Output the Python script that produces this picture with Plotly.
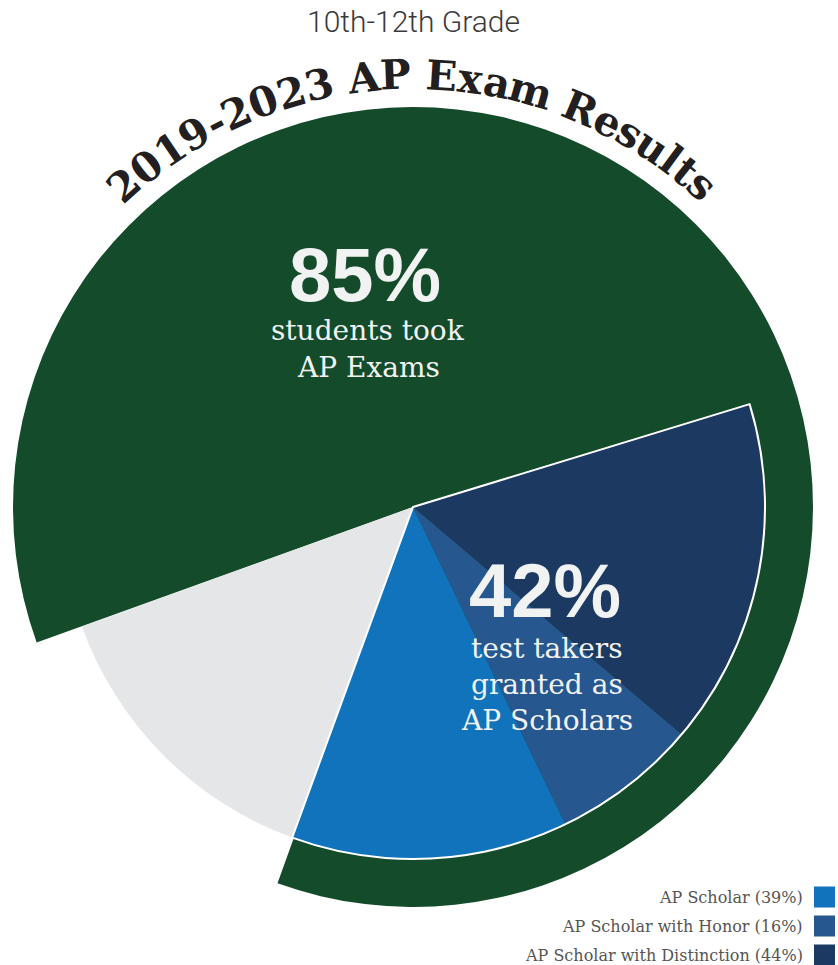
import math
import plotly.graph_objects as go

# ---------------- data ----------------
outer_labels = ["Took AP Exams", "Did not take AP Exams"]
outer_values = [86.0, 14.0]

inner_labels = ["AP Scholar with Distinction", "AP Scholar with Honor", "AP Scholar",
                "Did not take AP Exams", "Not granted"]
inner_values = [15.9, 6.7, 12.7, 13.9, 50.8]

legend_labels = ["AP Scholar (39%)", "AP Scholar with Honor (16%)", "AP Scholar with Distinction (44%)"]

subtitle = "10th-12th Grade"
title_text = "2019-2023 AP Exam Results"
big1 = "85%"
big1_lines = ["students took", "AP Exams"]
big2 = "42%"
big2_lines = ["test takers", "granted as", "AP Scholars"]

# ---------------- styles ----------------
GREEN = "#134b2b"
NAVY = "#1c3961"
MED = "#26578f"
LIGHT = "#1073bb"
GREY = "#e5e6e7"
CLEAR = "rgba(0,0,0,0)"
WHITE_TXT = "#f1f2f2"

W, H = 838, 965
CX, CY = 413, 507
R_OUT, R_IN = 400, 352


def px(x):
    return x / W


def py(y):
    return 1 - y / H


def domain(r):
    return dict(x=[px(CX - r), px(CX + r)], y=[py(CY + r), py(CY - r)])


fig = go.Figure()

# outer ring (green share of students)
fig.add_trace(go.Pie(
    labels=outer_labels, values=outer_values, sort=False, direction="clockwise",
    rotation=250.2, domain=domain(R_OUT), textinfo="none", hoverinfo="skip",
    marker=dict(colors=[GREEN, CLEAR], line=dict(width=0)), showlegend=False,
))

# inner pie
fig.add_trace(go.Pie(
    labels=inner_labels, values=inner_values, sort=False, direction="clockwise",
    rotation=73.0, domain=domain(R_IN), textinfo="none", hoverinfo="skip",
    marker=dict(colors=[NAVY, MED, LIGHT, GREY, CLEAR], line=dict(width=0)), showlegend=False,
))

# white outline around the AP scholar group
blue_total = sum(inner_values[:3])
fig.add_trace(go.Pie(
    labels=["AP Scholars", "Others"], values=[blue_total, sum(inner_values) - blue_total],
    sort=False, direction="clockwise", rotation=73.0, domain=domain(R_IN),
    textinfo="none", hoverinfo="skip",
    marker=dict(colors=[CLEAR, CLEAR], line=dict(color=["white", CLEAR], width=[2, 0])),
    showlegend=False,
))

annotations = []

# subtitle
annotations.append(dict(x=px(413), y=py(22), xref="paper", yref="paper", text=subtitle,
                        showarrow=False, xanchor="center", yanchor="middle",
                        font=dict(family="Roboto", size=30, color="#3a3a3a", weight=300)))

# curved title
EM = {"-": 0.415, " ": 0.348, "A": 0.776, "P": 0.733, "E": 0.734, "x": 0.657, "a": 0.647,
      "m": 1.017, "R": 0.813, "e": 0.632, "s": 0.551, "u": 0.708, "l": 0.367, "t": 0.478}
FS = 41
R_T = 432
SPAN_DEG = 83.8
widths = [EM.get(c, 0.696) * FS for c in title_text]
centers = []
acc = 0.0
for w in widths:
    centers.append(acc + w / 2)
    acc += w
base_span = centers[-1] - centers[0]
target = math.radians(SPAN_DEG) * R_T
track = (target - base_span) / (len(title_text) - 1)
centers = [c + i * track for i, c in enumerate(centers)]
mid = (centers[0] + centers[-1]) / 2
for ch, c in zip(title_text, centers):
    if ch == " ":
        continue
    th = (c - mid) / R_T
    x = CX + R_T * math.sin(th)
    y = CY - R_T * math.cos(th)
    annotations.append(dict(x=px(x), y=py(y), xref="paper", yref="paper", text="<b>%s</b>" % ch,
                            showarrow=False, xanchor="center", yanchor="middle",
                            textangle=math.degrees(th),
                            font=dict(family="DejaVu Serif", size=FS, color="#231f20")))

# big numbers
annotations.append(dict(x=px(365), y=py(274), xref="paper", yref="paper", text="<b>%s</b>" % big1,
                        showarrow=False, xanchor="center", yanchor="middle",
                        font=dict(family="Liberation Sans", size=76, color=WHITE_TXT)))
for i, line in enumerate(big1_lines):
    annotations.append(dict(x=px(368), y=py(331 + 37 * i), xref="paper", yref="paper", text=line,
                            showarrow=False, xanchor="center", yanchor="middle",
                            font=dict(family="DejaVu Serif", size=28, color=WHITE_TXT)))

annotations.append(dict(x=px(545), y=py(590), xref="paper", yref="paper", text="<b>%s</b>" % big2,
                        showarrow=False, xanchor="center", yanchor="middle",
                        font=dict(family="Liberation Sans", size=76, color=WHITE_TXT)))
for i, line in enumerate(big2_lines):
    annotations.append(dict(x=px(547), y=py(648 + 36 * i), xref="paper", yref="paper", text=line,
                            showarrow=False, xanchor="center", yanchor="middle",
                            font=dict(family="DejaVu Serif", size=28, color=WHITE_TXT)))

# legend (text left of swatch)
shapes = []
legend_colors = [LIGHT, MED, NAVY]
for i, (lab, col) in enumerate(zip(legend_labels, legend_colors)):
    yc = 897 + 29 * i
    annotations.append(dict(x=px(805), y=py(yc), xref="paper", yref="paper", text=lab,
                            showarrow=False, xanchor="right", yanchor="middle",
                            font=dict(family="DejaVu Serif", size=16, color="#555555")))
    shapes.append(dict(type="rect", xref="paper", yref="paper",
                       x0=px(814), x1=px(835), y0=py(yc + 10.5), y1=py(yc - 10.5),
                       fillcolor=col, line=dict(width=0)))

fig.update_layout(width=W, height=H, margin=dict(l=0, r=0, t=0, b=0),
                  paper_bgcolor="white", plot_bgcolor="white", showlegend=False,
                  annotations=annotations, shapes=shapes)

fig.write_html("out.html", config={"displayModeBar": False},
               post_script="document.body.style.margin='0';document.body.style.overflow='hidden';")
